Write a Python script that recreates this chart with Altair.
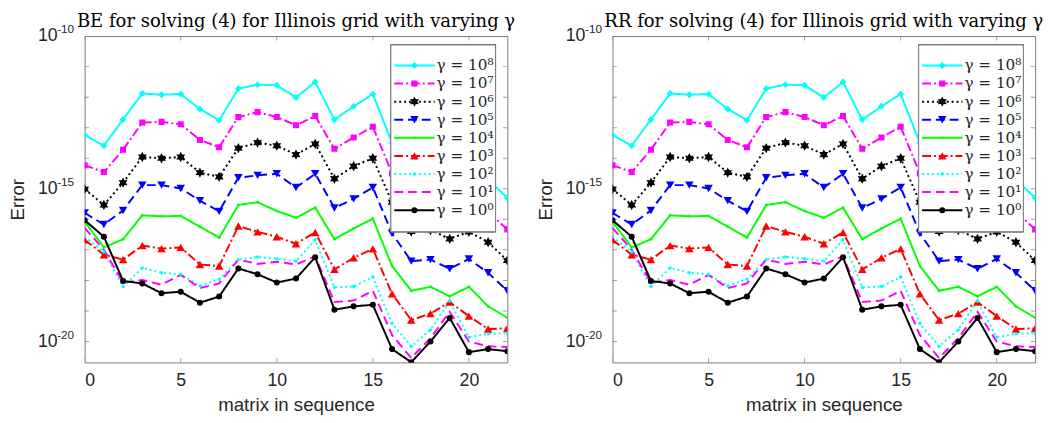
import math
import altair as alt
import pandas as pd

# ---------------- data (log10 of error) ----------------
matrix_idx = list(range(23))

series_labels = ["γ = 10⁸", "γ = 10⁷", "γ = 10⁶", "γ = 10⁵", "γ = 10⁴",
                 "γ = 10³", "γ = 10²", "γ = 10¹", "γ = 10⁰"]

log_err_g8 = [-13.24, -13.59, -12.73, -11.88, -11.92, -11.90, -12.39, -12.76, -11.72, -11.59, -11.61, -12.01,
              -11.50, -12.74, -12.30, -11.90, -13.50, -14.35, -14.30, -14.60, -14.35, -14.70, -15.30]
log_err_g7 = [-14.23, -14.45, -13.72, -12.83, -12.81, -12.89, -13.40, -13.64, -12.65, -12.49, -12.65, -12.92,
              -12.62, -13.69, -13.32, -12.97, -14.50, -15.40, -15.35, -15.65, -15.40, -15.75, -16.33]
log_err_g6 = [-15.01, -15.53, -14.80, -13.96, -14.00, -13.96, -14.47, -14.61, -13.67, -13.49, -13.59, -13.88,
              -13.53, -14.67, -14.26, -14.00, -15.44, -16.40, -16.35, -16.64, -16.41, -16.75, -17.35]
log_err_g5 = [-15.79, -16.17, -15.71, -14.88, -14.88, -14.99, -15.39, -15.74, -14.64, -14.56, -14.51, -14.96,
              -14.51, -15.63, -15.33, -14.96, -16.46, -17.37, -17.32, -17.62, -17.30, -17.75, -18.34]
log_err_g4 = [-16.08, -16.92, -16.65, -15.87, -15.90, -15.89, -16.24, -16.60, -15.53, -15.44, -15.73, -15.95,
              -15.62, -16.65, -16.30, -15.98, -17.53, -18.34, -18.21, -18.52, -18.21, -18.85, -19.22]
log_err_g3 = [-16.67, -17.16, -17.32, -16.86, -16.96, -16.92, -17.48, -17.53, -16.22, -16.41, -16.57, -16.80,
              -16.43, -17.64, -17.26, -16.97, -18.44, -19.30, -19.09, -18.71, -19.17, -19.59, -19.57]
log_err_g2 = [-16.57, -17.07, -18.20, -17.59, -17.75, -17.80, -18.18, -17.96, -17.32, -17.23, -17.29, -17.37,
              -16.67, -18.23, -18.20, -17.89, -19.41, -20.16, -19.62, -18.68, -19.86, -19.75, -19.73]
log_err_g1 = [-16.28, -17.00, -18.07, -17.99, -18.14, -17.82, -18.25, -18.10, -17.32, -17.46, -17.39, -17.48,
              -17.21, -18.71, -18.66, -18.34, -19.79, -20.54, -19.89, -19.03, -20.00, -20.16, -20.18]
log_err_g0 = [-16.03, -16.57, -18.02, -18.10, -18.42, -18.37, -18.73, -18.53, -17.61, -17.80, -18.07, -17.94,
              -17.24, -18.96, -18.85, -18.80, -20.25, -20.68, -20.00, -19.23, -20.35, -20.25, -20.32]

panel_titles = ["BE for solving (4) for Illinois grid with varying γ",
                "RR for solving (4) for Illinois grid with varying γ"]

y_decades = list(range(-20, -9))
y_label_decades = [-20, -15, -10]
x_tick_values = [0, 5, 10, 15, 20]

# ---------------- styles ----------------
colors = ["#00FFFF", "#FF00FF", "#000000", "#0000FF", "#00FF00",
          "#FF0000", "#00FFFF", "#FF00FF", "#000000"]
dashes = [[1, 0], [9, 3, 2, 3], [2, 3], [9, 5], [1, 0], [9, 3, 2, 3], [2, 3], [9, 5], [1, 0]]

hexagram_pts = []
for k in range(12):
    ang = math.pi / 2 + k * math.pi / 6
    r = 1.0 if k % 2 == 0 else 0.55
    hexagram_pts.append((r * math.cos(ang), -r * math.sin(ang)))
hexagram = "M" + "L".join(f"{px:.3f},{py:.3f}" for px, py in hexagram_pts) + "Z"

shapes = ["diamond", "square", hexagram, "triangle-down", "circle",
          "triangle-up", "circle", "circle", "circle"]
marker_sizes = [50, 38, 110, 75, 8, 75, 12, 0, 38]

all_series = [log_err_g8, log_err_g7, log_err_g6, log_err_g5, log_err_g4,
              log_err_g3, log_err_g2, log_err_g1, log_err_g0]

size_of = dict(zip(series_labels, marker_sizes))
rows = []
for lab, vals in zip(series_labels, all_series):
    for xi, lv in zip(matrix_idx, vals):
        rows.append({"matrix": xi, "error": 10 ** lv, "series": lab, "msize": size_of[lab]})
df = pd.DataFrame(rows)
legend_df = pd.DataFrame({"series": series_labels, "msize": marker_sizes})
ytick_df = pd.DataFrame({"v": [10.0 ** e for e in y_decades]})
xtick_df = pd.DataFrame({"m": x_tick_values})
yexp_df = pd.DataFrame({"v": [10.0 ** e for e in y_label_decades],
                        "exp": [str(e) for e in y_label_decades]})

W, H = 430, 332
AX = "#7a7a7a"
TXT = "#262626"
SANS = "Liberation Sans"
SERIF = "DejaVu Serif"

xscale = alt.Scale(domain=[0, 22], nice=False, zero=False)
yscale = alt.Scale(type="log", domain=[10 ** -20.686, 1e-10], nice=False)
cscale = alt.Scale(domain=series_labels, range=colors)
dscale = alt.Scale(domain=series_labels, range=dashes)
sscale = alt.Scale(domain=series_labels, range=shapes)

label_expr = "indexof([-20, -15, -10], round(log(datum.value)/LN10)) >= 0 ? '10' : ''"

LEG_L = W - 118.5   # legend box left, measured from the plot's left edge
LEG_R = W - 12


def make_panel(title_text):
    base = alt.Chart(df)
    lines = base.mark_line(strokeWidth=2, clip=True).encode(
        x=alt.X("matrix:Q", scale=xscale,
                axis=alt.Axis(values=x_tick_values, title="matrix in sequence", ticks=False,
                              domain=False, grid=False, labelPadding=10, titlePadding=6)),
        y=alt.Y("error:Q", scale=yscale,
                axis=alt.Axis(values=[10.0 ** e for e in y_decades], labelExpr=label_expr,
                              title="Error", ticks=False, domain=False, grid=False,
                              labelPadding=28, titlePadding=10)),
        color=alt.Color("series:N", scale=cscale, legend=None),
        strokeDash=alt.StrokeDash("series:N", scale=dscale, legend=None),
        order=alt.Order("matrix:Q"),
    )
    points = base.mark_point(filled=True, opacity=1, clip=True).encode(
        x=alt.X("matrix:Q", scale=xscale),
        y=alt.Y("error:Q", scale=yscale),
        color=alt.Color("series:N", scale=cscale, legend=None),
        shape=alt.Shape("series:N", scale=sscale, legend=None),
        size=alt.Size("msize:Q", scale=None, legend=None),
    )
    yexp = alt.Chart(yexp_df).mark_text(align="left", baseline="middle", font=SANS, fontSize=12,
                                        color=TXT, dy=-7).encode(
        y=alt.Y("v:Q", scale=yscale), x=alt.value(-28), text="exp:N")
    yt_left = alt.Chart(ytick_df).mark_tick(orient="horizontal", size=9, thickness=1, color=AX, clip=True).encode(
        y=alt.Y("v:Q", scale=yscale), x=alt.value(0))
    yt_right = alt.Chart(ytick_df).mark_tick(orient="horizontal", size=9, thickness=1, color=AX, clip=True).encode(
        y=alt.Y("v:Q", scale=yscale), x=alt.value(W))
    xt_bot = alt.Chart(xtick_df).mark_tick(orient="vertical", size=9, thickness=1, color=AX, clip=True).encode(
        x=alt.X("m:Q", scale=xscale), y=alt.value(H))
    xt_top = alt.Chart(xtick_df).mark_tick(orient="vertical", size=9, thickness=1, color=AX, clip=True).encode(
        x=alt.X("m:Q", scale=xscale), y=alt.value(0))

    main = alt.layer(yt_left, yt_right, xt_bot, xt_top, lines, points, yexp)

    leg_y = alt.Y("series:N", scale=alt.Scale(type="point", domain=series_labels, range=[20.7, 186.3]), axis=None)
    leg_box = alt.Chart(legend_df).mark_rect(fill="white", stroke=AX, strokeWidth=1).encode(
        x=alt.value(LEG_L), x2=alt.value(LEG_R), y=alt.value(9), y2=alt.value(199))
    leg_line = alt.Chart(legend_df).mark_rule(strokeWidth=2).encode(
        x=alt.value(LEG_L + 3.5), x2=alt.value(LEG_L + 44.5), y=leg_y,
        color=alt.Color("series:N", scale=cscale, legend=None),
        strokeDash=alt.StrokeDash("series:N", scale=dscale, legend=None))
    leg_pt = alt.Chart(legend_df).mark_point(filled=True, opacity=1).encode(
        x=alt.value(LEG_L + 24), y=leg_y,
        color=alt.Color("series:N", scale=cscale, legend=None),
        shape=alt.Shape("series:N", scale=sscale, legend=None),
        size=alt.Size("msize:Q", scale=None, legend=None))
    leg_txt = alt.Chart(legend_df).mark_text(align="left", baseline="middle", font=SERIF,
                                             fontSize=15.5, color=TXT).encode(
        x=alt.value(LEG_L + 46.5), y=leg_y, text="series:N")
    legend = alt.layer(leg_box, leg_line, leg_pt, leg_txt)

    return alt.layer(main, legend).resolve_scale(y="independent").properties(
        width=W, height=H,
        title=alt.TitleParams(title_text, font=SERIF, fontSize=18.3, fontWeight="normal",
                              color="#000000", offset=-8, anchor="middle", frame="group"))


chart = alt.hconcat(make_panel(panel_titles[0]), make_panel(panel_titles[1]), spacing=20).properties(
    padding={"left": 0, "top": 0, "right": 0, "bottom": 0}
).configure_view(
    stroke=AX, strokeWidth=1
).configure_axis(
    labelFont=SANS, labelFontSize=18, labelColor=TXT,
    titleFont=SANS, titleFontSize=19, titleColor=TXT, titleFontWeight="normal",
)

chart.save("out.html", embed_options={"renderer": "svg", "actions": False})
